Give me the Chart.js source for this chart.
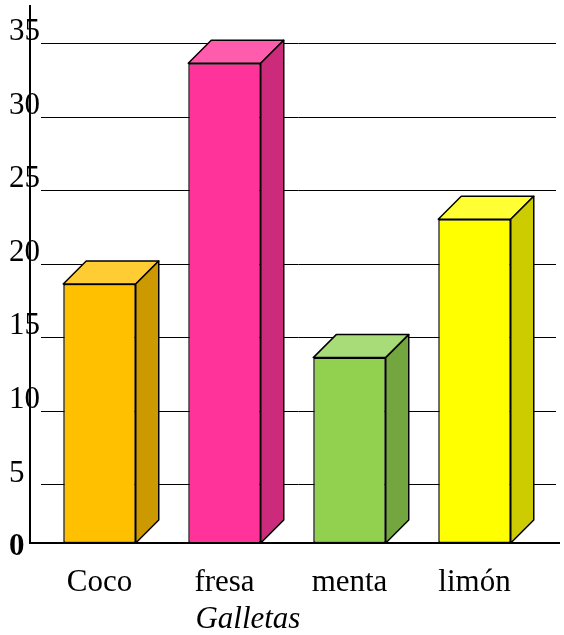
<!DOCTYPE html>
<html>
<head>
<meta charset="utf-8">
<script src="https://cdn.jsdelivr.net/npm/chart.js@4.4.1/dist/chart.umd.min.js"></script>
<style>
  html, body { margin: 0; padding: 0; background: #fff; }
  #galletaschart_wrap { width: 564px; height: 635px; }
</style>
</head>
<body>
<div id="galletaschart_wrap"><canvas id="galletaschart"></canvas></div>
<script>
  // GALLETAS 3D BAR CHART
  // Setup Block
  const categories = ['Coco', 'fresa', 'menta', 'limón'];
  const values = [17.6, 32.6, 12.6, 22.0];
  const y_ticks = [0, 5, 10, 15, 20, 25, 30, 35];
  const front_colors = ['#FFC000', '#FF3399', '#92D050', '#FFFF00'];
  const top_colors = ['#FFCC33', '#FF5CAD', '#A8DC78', '#FFFF33'];
  const side_colors = ['#CC9900', '#CC2A7A', '#74A640', '#CCCC00'];
  const axis_title = 'Galletas';

  const depth = 23;
  const serif = "'Liberation Serif', 'Times New Roman', serif";

  const data_galletas = {
    labels: categories,
    datasets: [{
      data: values,
      backgroundColor: front_colors,
      borderColor: '#000',
      borderWidth: 1.5,
      borderSkipped: false,
      barPercentage: 0.58,
      categoryPercentage: 1
    }]
  };

  // back wall grid, axis line and baseline
  const wall_plugin = {
    id: 'wall',
    beforeDatasetsDraw(chart) {
      const ctx = chart.ctx;
      const area = chart.chartArea;
      const y = chart.scales.y;
      ctx.save();
      ctx.strokeStyle = '#000';
      ctx.lineWidth = 1;
      y_ticks.forEach(v => {
        if (v === 0) return;
        const py = Math.round(y.getPixelForValue(v) + 15) + 0.5;
        ctx.beginPath();
        ctx.moveTo(area.left + 4, py);
        ctx.lineTo(area.right + 19, py);
        ctx.stroke();
      });
      ctx.lineWidth = 2;
      ctx.beginPath();
      ctx.moveTo(area.left - 7, y.getPixelForValue(35) - depth);
      ctx.lineTo(area.left - 7, area.bottom);
      ctx.lineTo(area.right + depth, area.bottom);
      ctx.stroke();
      ctx.restore();
    }
  };

  // top and side faces of each bar
  const box_plugin = {
    id: 'box',
    afterDatasetsDraw(chart) {
      const ctx = chart.ctx;
      const meta = chart.getDatasetMeta(0);
      ctx.save();
      ctx.strokeStyle = '#000';
      ctx.lineWidth = 1.5;
      ctx.lineJoin = 'round';
      meta.data.forEach((bar, i) => {
        const p = bar.getProps(['x', 'y', 'base', 'width'], true);
        const l = p.x - p.width / 2;
        const r = p.x + p.width / 2;
        const t = p.y;
        const b = p.base;
        ctx.fillStyle = top_colors[i];
        ctx.beginPath();
        ctx.moveTo(l, t);
        ctx.lineTo(l + depth, t - depth);
        ctx.lineTo(r + depth, t - depth);
        ctx.lineTo(r, t);
        ctx.closePath();
        ctx.fill();
        ctx.stroke();
        ctx.fillStyle = side_colors[i];
        ctx.beginPath();
        ctx.moveTo(r, t);
        ctx.lineTo(r + depth, t - depth);
        ctx.lineTo(r + depth, b - depth);
        ctx.lineTo(r, b);
        ctx.closePath();
        ctx.fill();
        ctx.stroke();
      });
      ctx.restore();
    },
    afterDraw(chart) {
      const ctx = chart.ctx;
      const x = chart.scales.x;
      ctx.save();
      ctx.font = '31px ' + serif;
      const w = ctx.measureText(categories[1]).width;
      ctx.font = 'italic 31px ' + serif;
      ctx.fillStyle = '#000';
      ctx.textBaseline = 'alphabetic';
      ctx.fillText(axis_title, x.getPixelForValue(1) - w / 2 + 1, 628);
      ctx.restore();
    }
  };

  // Config Block
  const config_galletas = {
    type: 'bar',
    data: data_galletas,
    plugins: [wall_plugin, box_plugin],
    options: {
      responsive: true,
      maintainAspectRatio: false,
      animation: false,
      layout: {
        padding: { top: 28, right: 27, left: 0, bottom: 0 }
      },
      plugins: {
        legend: { display: false },
        tooltip: { enabled: false },
        title: { display: false }
      },
      scales: {
        x: {
          grid: { display: false, drawTicks: false },
          border: { display: false },
          ticks: {
            color: '#000',
            padding: 21,
            maxRotation: 0,
            font: { family: serif, size: 31 }
          },
          afterFit(scale) { scale.height = 92; }
        },
        y: {
          min: 0,
          max: 35,
          grid: { display: false, drawTicks: false },
          border: { display: false },
          afterBuildTicks(scale) { scale.ticks = y_ticks.map(v => ({ value: v })); },
          afterFit(scale) { scale.width = 37; },
          ticks: {
            color: '#000',
            mirror: true,
            padding: -28,
            labelOffset: 4,
            font: ctx => ({
              family: serif,
              size: 31,
              weight: ctx.tick && ctx.tick.value === 0 ? 'bold' : 'normal'
            })
          }
        }
      }
    }
  };

  // Render Block
  const galletaschart = new Chart(
    document.getElementById('galletaschart'),
    config_galletas
  );
</script>
</body>
</html>
